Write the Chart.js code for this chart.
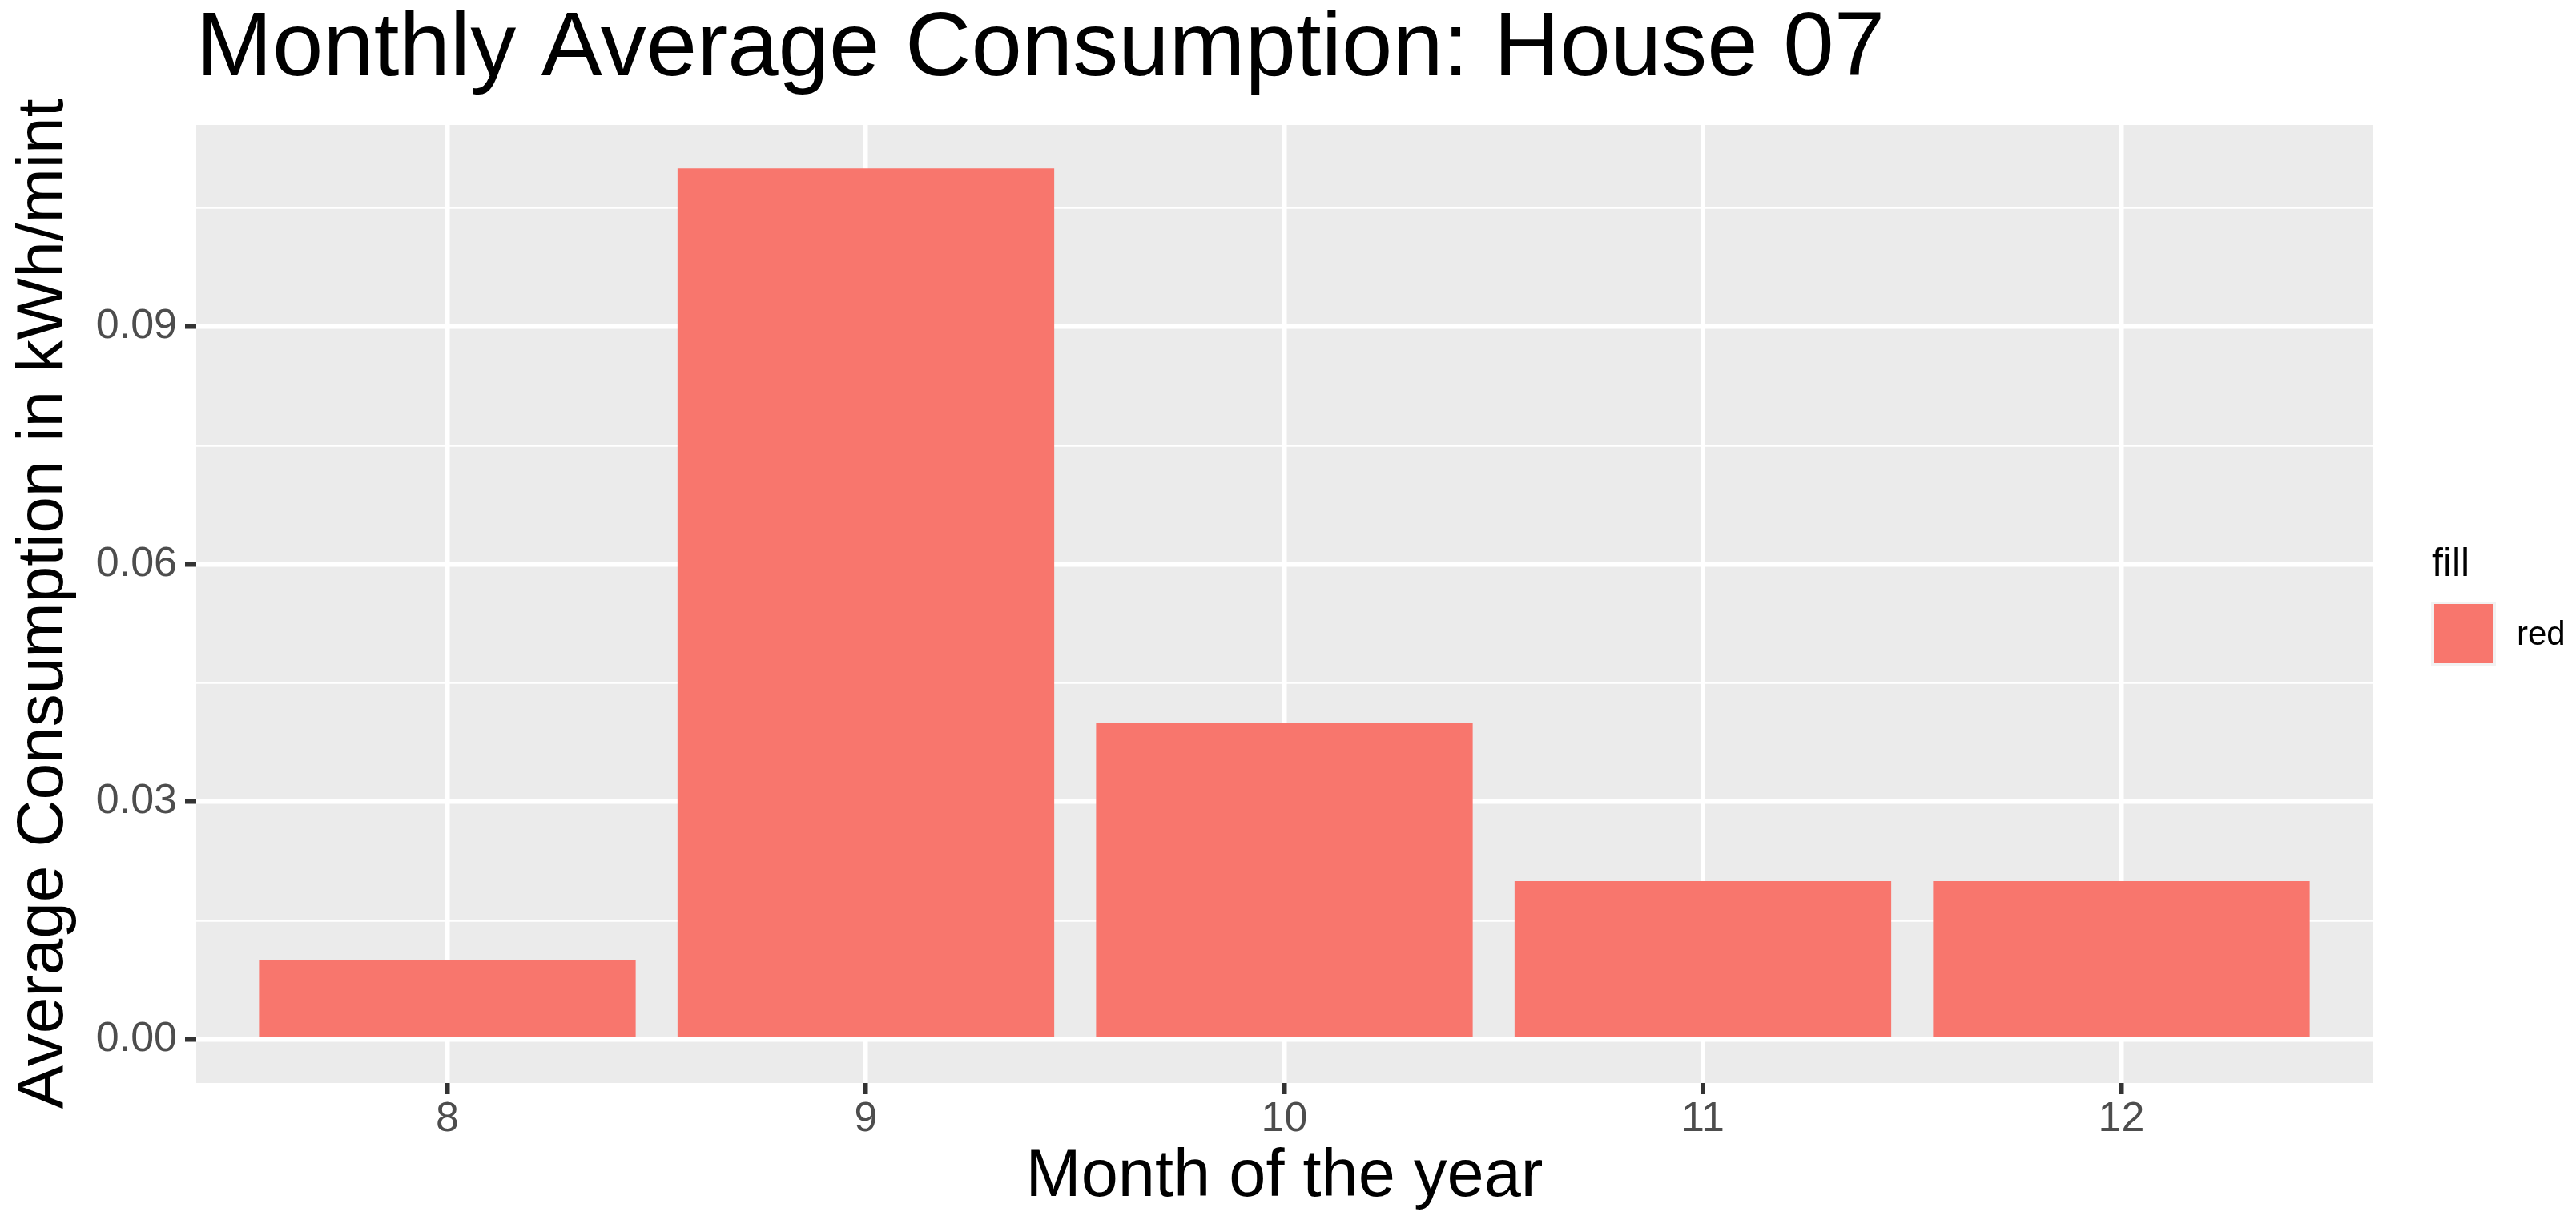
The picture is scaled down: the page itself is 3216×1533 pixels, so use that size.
<!DOCTYPE html>
<html>
<head>
<meta charset="utf-8">
<script src="https://cdn.jsdelivr.net/npm/chart.js@4"></script>
<style>
  html, body { margin: 0; padding: 0; background: #fff; }
  #wrap { width: 3216px; height: 1533px; }
</style>
</head>
<body>
<div id="wrap"><canvas id="consumptionChart" width="3216" height="1533"></canvas></div>
<script>
// data
const months = [8, 9, 10, 11, 12];
const consumption = [0.01, 0.11, 0.04, 0.02, 0.02];
const yTicks = [0, 0.015, 0.03, 0.045, 0.06, 0.075, 0.09, 0.105];
const yMajor = [0, 0.03, 0.06, 0.09];
const seriesLabel = 'red';
const legendTitle = 'fill';

const FONT = "'Liberation Sans', Arial, sans-serif";
const barColor = '#F8766D';

// ggplot-like expansion: 5% on the value axis, 0.6 on the discrete axis
const yMax = Math.max(...consumption);
const yPad = yMax * 0.05;

// grey panel behind the grid
const panelBg = {
    id: 'panelBg',
    beforeDraw(chart) {
        const { ctx, chartArea: a } = chart;
        ctx.save();
        ctx.fillStyle = '#EBEBEB';
        ctx.fillRect(a.left, a.top, a.right - a.left, a.bottom - a.top);
        ctx.restore();
    }
};

// legend drawn to the right of the panel, like ggplot's guide
const sideLegend = {
    id: 'sideLegend',
    afterDraw(chart) {
        const { ctx, chartArea: a } = chart;
        const ds = chart.data.datasets[0];
        const cy = (a.top + a.bottom) / 2;
        const x0 = a.right + 73;
        ctx.save();
        ctx.fillStyle = '#000';
        ctx.textBaseline = 'alphabetic';
        ctx.font = '50px ' + FONT;
        ctx.fillText(legendTitle, x0 + 1, cy - 35);
        ctx.fillStyle = '#F2F2F2';
        ctx.fillRect(x0, cy - 3, 81, 80);
        ctx.fillStyle = ds.backgroundColor;
        ctx.fillRect(x0 + 4, cy, 73, 74);
        ctx.fillStyle = '#000';
        ctx.font = '42px ' + FONT;
        ctx.fillText(ds.label, x0 + 107, cy + 51);
        ctx.restore();
    }
};

const ctx = document.getElementById('consumptionChart').getContext('2d');
const chart = new Chart(ctx, {
    type: 'bar',
    data: {
        datasets: [{
            label: seriesLabel,
            data: months.map((m, i) => ({ x: m, y: consumption[i] })),
            backgroundColor: barColor,
            borderWidth: 0,
            barPercentage: 0.9,
            categoryPercentage: 1.0
        }]
    },
    options: {
        responsive: false,
        animation: false,
        devicePixelRatio: 1,
        layout: { padding: { top: 0, left: 0, bottom: 0, right: 254 } },
        plugins: {
            legend: { display: false },
            tooltip: { enabled: false },
            title: {
                display: true,
                text: 'Monthly Average Consumption: House 07',
                align: 'start',
                fullSize: false,
                color: '#000',
                font: { family: FONT, size: 114, weight: 'normal', lineHeight: 1.1 },
                padding: { top: 0, bottom: 30.6 }
            }
        },
        scales: {
            x: {
                type: 'linear',
                offset: false,
                min: months[0] - 0.6,
                max: months[months.length - 1] + 0.6,
                afterBuildTicks: axis => { axis.ticks = months.map(v => ({ value: v })); },
                afterFit: axis => { axis.height = 181; },
                grid: {
                    offset: false,
                    color: '#FFFFFF',
                    lineWidth: 5.5,
                    drawTicks: true,
                    tickLength: 14,
                    tickColor: '#333333',
                    tickWidth: 5.5
                },
                border: { display: false },
                ticks: {
                    color: '#4D4D4D',
                    font: { family: FONT, size: 52 },
                    padding: 0,
                    maxRotation: 0,
                    callback: v => String(v)
                },
                title: {
                    display: true,
                    text: 'Month of the year',
                    color: '#000',
                    font: { family: FONT, size: 83 },
                    padding: { top: 0, bottom: 13 }
                }
            },
            y: {
                min: -yPad,
                max: yMax + yPad,
                afterBuildTicks: axis => { axis.ticks = yTicks.map(v => ({ value: v })); },
                afterFit: axis => { axis.width = 245; },
                grid: {
                    color: '#FFFFFF',
                    lineWidth: c => yMajor.includes(c.tick.value) ? 5.5 : 2.75,
                    drawTicks: true,
                    tickLength: 14,
                    tickColor: c => yMajor.includes(c.tick.value) ? '#333333' : 'rgba(0,0,0,0)',
                    tickWidth: 5.5
                },
                border: { display: false },
                ticks: {
                    color: '#4D4D4D',
                    font: { family: FONT, size: 52 },
                    padding: 10,
                    callback: v => yMajor.includes(v) ? v.toFixed(2) : ''
                },
                title: {
                    display: true,
                    text: 'Average Consumption in kWh/mint',
                    color: '#000',
                    font: { family: FONT, size: 82 },
                    padding: { top: 6, bottom: 0 }
                }
            }
        }
    },
    plugins: [panelBg, sideLegend]
});
</script>
</body>
</html>
